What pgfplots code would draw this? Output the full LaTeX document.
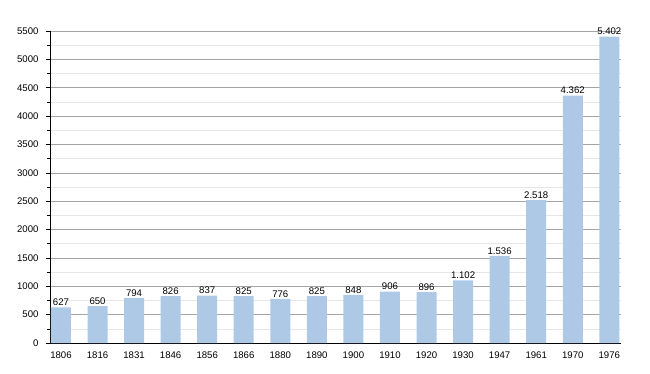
\documentclass[border=0pt]{standalone}
\usepackage{pgfplots}
\pgfplotsset{compat=1.18}
\usepackage{fontspec}
\setmainfont{Liberation Sans}
\definecolor{barblue}{RGB}{174,201,230}
\definecolor{majgrid}{RGB}{165,165,165}
\definecolor{mingrid}{RGB}{230,230,230}
\begin{document}
\begin{tikzpicture}
\useasboundingbox (0,0) rectangle (650pt,373pt);
\begin{axis}[
  at={(50pt,30pt)}, anchor=south west,
  scale only axis, width=571pt, height=312pt,
  xmin=-0.3, xmax=15.32, ymin=0, ymax=5500,
  axis lines*=left,
  axis line style={black, line width=0.9pt, -},
  ytick={0,500,...,5500},
  minor ytick={250,750,...,5250},
  xtick={0,...,15},
  xticklabels={1806,1816,1831,1846,1856,1866,1880,1890,1900,1910,1920,1930,1947,1961,1970,1976},
  x tick style={draw=none},
  y tick style={black, line width=0.6pt},
  major tick length=4pt, minor tick length=3pt,
  tick align=outside,
  ymajorgrids, yminorgrids,
  major grid style={majgrid, line width=0.6pt},
  minor grid style={mingrid, line width=0.6pt},
  tick label style={font=\fontsize{9.6}{11}\selectfont},
  /pgf/number format/assume math mode=true,
  yticklabel style={/pgf/number format/1000 sep={}, xshift=-4pt},
  xticklabel style={yshift=-1pt},
  xtick pos=bottom, ytick pos=left,
  ybar, bar width=20pt,
  nodes near coords,
  every node near coord/.append style={font=\fontsize{9.6}{11}\selectfont, /pgf/number format/1000 sep={.}, inner sep=1.5pt},
]
\addplot[fill=barblue, draw=none] coordinates {
(0,627) (1,650) (2,794) (3,826) (4,837) (5,825) (6,776) (7,825)
(8,848) (9,906) (10,896) (11,1102) (12,1536) (13,2518) (14,4362) (15,5402)};
\end{axis}
\end{tikzpicture}
\end{document}
